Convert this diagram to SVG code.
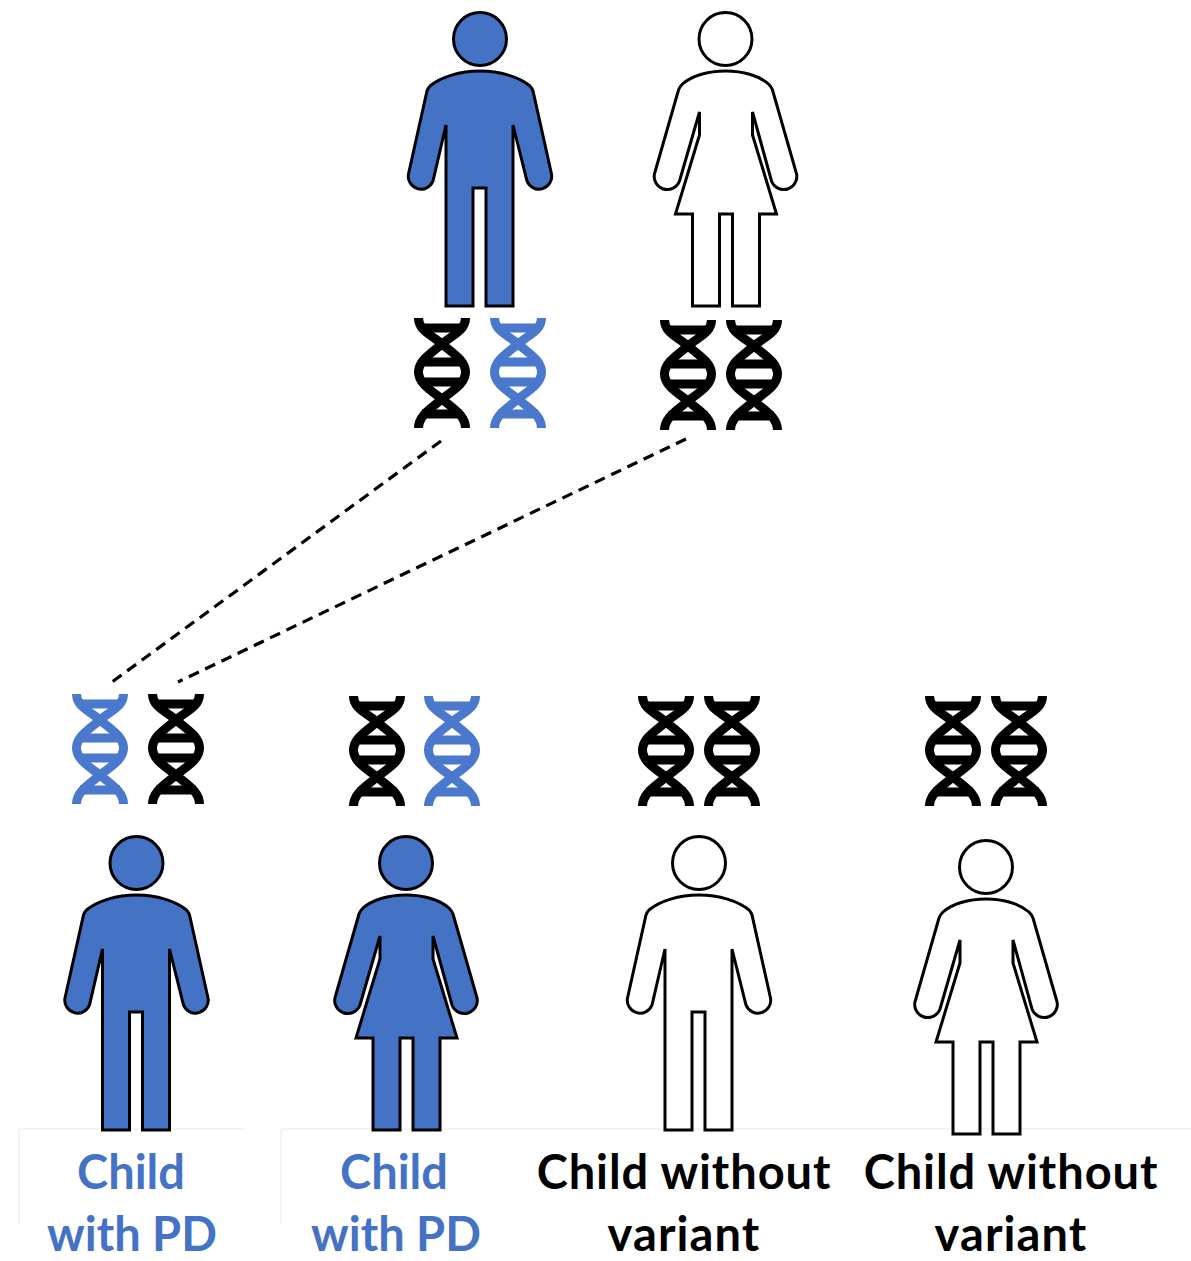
<svg xmlns="http://www.w3.org/2000/svg" width="1191" height="1261" viewBox="0 0 1191 1261">
<style>
.fig{stroke:#000;stroke-width:3;stroke-linejoin:miter}
.blue{fill:#4472C4}.white{fill:#fff}
.dna{fill:none;stroke-width:9}
.dna .rung{stroke-width:7}
.k{stroke:#000}.b{stroke:#4A78CC}
.dash{fill:none;stroke:#000;stroke-width:3.2;stroke-dasharray:11 7}
.edge{fill:none;stroke:#e8e8e8;stroke-width:1}
text{font-family:Lato,"Open Sans","Liberation Sans",sans-serif;font-size:47px;font-weight:700;text-anchor:middle}
.tb{fill:#4472C4}.tk{fill:#000}
.w1{letter-spacing:.9px}.w2{letter-spacing:1.1px}
</style>
<defs>
<g id="man"><circle cx="0" cy="39" r="26.5"/><path d="M0,71C-20,71-39,77-50,86Q-52,88-53,91L-71.500,174A12.800,12.800 0 0 0-47,181L-34,125V306H-7V188H6V306H33V125L47,181A12.800,12.800 0 0 0 71.500,174L53,91Q52,88 50,86C39,77 20,71 0,71Z"/></g>
<g id="woman"><circle cx="0" cy="39" r="26.5"/><path d="M0,71C-18,71-34,76-43,84Q-46,87-47,90L-70.500,172A12.800,12.800 0 0 0-46,181L-26,112V135L-50,214H-33V306H-6V214H7V306H34V214H51L27,135V112L46,181A12.800,12.800 0 0 0 70.500,172L47,90Q46,87 43,84C34,76 18,71 0,71Z"/></g>
<g id="dna"><path d="M-23.5,-55C-23.5,-42-10,-38 0,-29C12,-19 23.5,-12 23.5,-1C23.5,10 12,17 0,26C-10,35-23.5,42-23.5,55"/><path d="M23.5,-55C23.5,-42 10,-38 0,-29C-12,-19-23.5,-12-23.5,-1C-23.5,10-12,17 0,26C10,35 23.5,42 23.5,55"/><path class="rung" d="M-20,-45H20M-22,-11H22M22,9H-22M-20,41H20"/></g>
</defs>
<g id="label-boxes"><path class="edge" d="M19,1224V1129H245M281,1224V1129H1191"/></g>
<g id="connectors"><path class="dash" d="M441,441L112,682"/><path class="dash" d="M686,439L178,682"/></g>
<g id="father"><use href="#man" class="fig blue" x="480" y="0"/><use href="#dna" class="dna k" x="442" y="373"/><use href="#dna" class="dna b" x="518" y="373"/></g>
<g id="mother"><use href="#woman" class="fig white" x="725.5" y="0"/><use href="#dna" class="dna k" x="688" y="375"/><use href="#dna" class="dna k" x="754" y="375"/></g>
<g id="child1"><use href="#dna" class="dna b" x="100" y="749"/><use href="#dna" class="dna k" x="176" y="749"/><use href="#man" class="fig blue" x="136.5" y="824"/><text class="tb" x="131" y="1189">Child</text><text class="tb" x="132" y="1250.5">with PD</text></g>
<g id="child2"><use href="#dna" class="dna k" x="377" y="751"/><use href="#dna" class="dna b" x="452" y="751"/><use href="#woman" class="fig blue" x="406" y="824"/><text class="tb" x="394" y="1189">Child</text><text class="tb" x="396" y="1250.5">with PD</text></g>
<g id="child3"><use href="#dna" class="dna k" x="666" y="751"/><use href="#dna" class="dna k" x="732" y="751"/><use href="#man" class="fig white" x="699" y="824"/><text class="tk w1" x="684" y="1189">Child without</text><text class="tk w2" x="684" y="1250.5">variant</text></g>
<g id="child4"><use href="#dna" class="dna k" x="953" y="751"/><use href="#dna" class="dna k" x="1019" y="751"/><use href="#woman" class="fig white" x="986" y="828"/><text class="tk w1" x="1011" y="1189">Child without</text><text class="tk w2" x="1011" y="1250.5">variant</text></g>
</svg>
